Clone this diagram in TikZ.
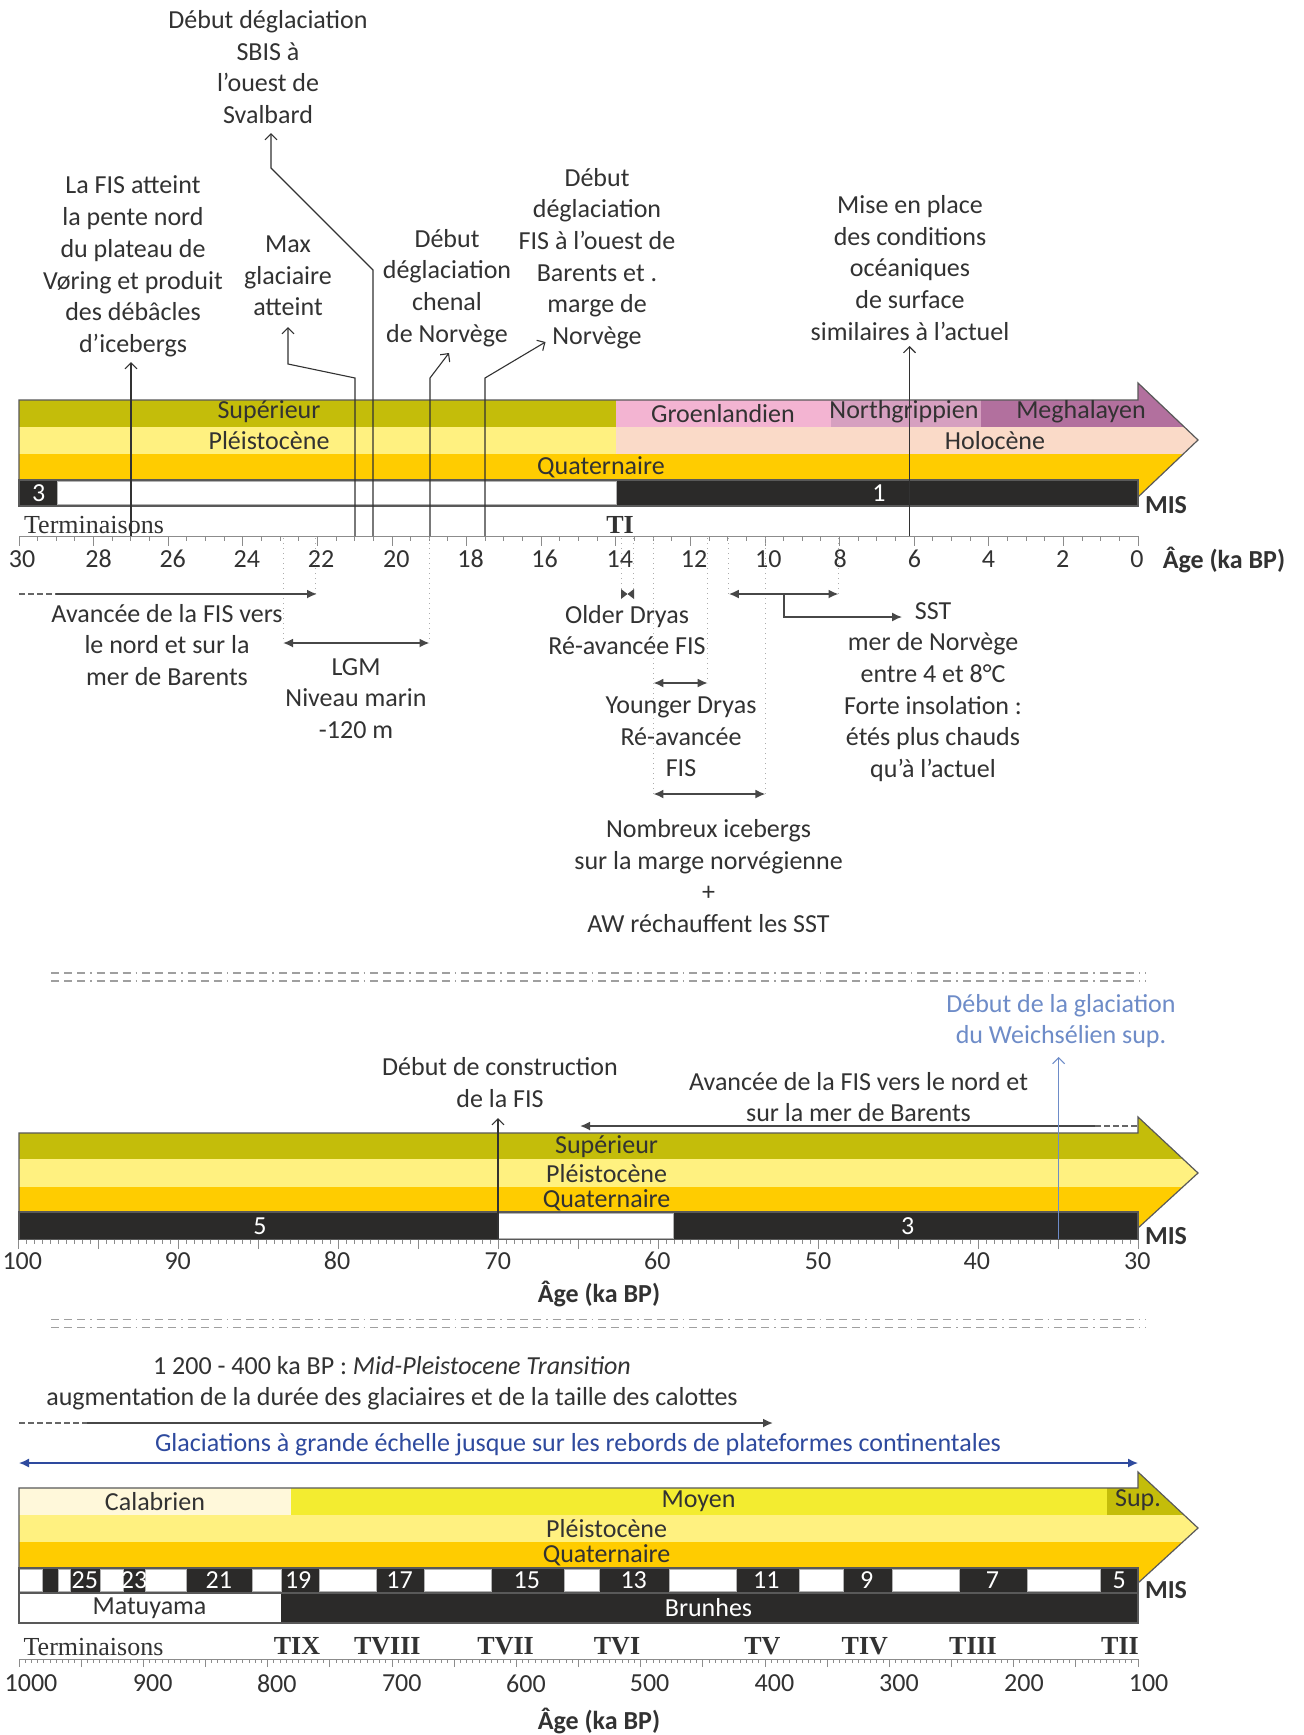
\documentclass[tikz,border=0pt]{standalone}
\usepackage{fontspec}
\setmainfont{Carlito}
\newfontfamily\tmsf{Liberation Serif}
\usetikzlibrary{arrows.meta}
\definecolor{sup}{RGB}{196,189,10}
\definecolor{ple}{RGB}{255,241,128}
\definecolor{qua}{RGB}{255,204,0}
\definecolor{gro}{RGB}{243,180,210}
\definecolor{nor}{RGB}{214,160,192}
\definecolor{meg}{RGB}{178,112,158}
\definecolor{hol}{RGB}{250,218,200}
\definecolor{mis}{RGB}{43,42,41}
\definecolor{moy}{RGB}{243,236,48}
\definecolor{cal}{RGB}{255,248,218}
\definecolor{txt}{RGB}{50,50,50}
\definecolor{blu}{RGB}{46,74,158}
\definecolor{lblu}{RGB}{110,140,200}
\definecolor{axg}{RGB}{140,140,140}
\tikzset{
  bld/.style={font=\fontsize{13}{15.85}\selectfont\bfseries},
  term/.style={font=\fontsize{13}{15.85}\selectfont\tmsf},
  termb/.style={font=\fontsize{13}{15.85}\selectfont\tmsf\bfseries},
  wtxt/.style={text=white},
  conn/.style={draw=txt, line width=0.55pt},
  upa/.style={conn, -{Straight Barb[length=3pt,width=6pt]}},
  harr/.style={draw=black!72, line width=0.9pt, -{Latex[length=5pt,width=4.5pt]}},
  hdarr/.style={harr, {Latex[length=5pt,width=4.5pt]}-{Latex[length=5pt,width=4.5pt]}},
  tiehead/.style={fill=black!72},
  hdash/.style={draw=black!60, line width=0.9pt, dash pattern=on 3pt off 1.5pt},
  dotln/.style={draw=gray!65, dotted, line width=0.5pt},
  tk/.style={draw=axg, line width=0.5pt},
  outl/.style={draw=black!65, line width=0.6pt},
  sepline/.style={draw=gray!75, line width=0.8pt, dash pattern=on 4pt off 2.5pt on 4pt off 2.5pt on 4pt off 2.5pt on 0.8pt off 2.5pt},
  wbox/.style={fill=white, draw=gray!60, line width=0.3pt}
}
\begin{document}
\begin{tikzpicture}[x=0.5pt,y=-0.5pt,
  every node/.style={font=\fontsize{13}{15.85}\selectfont, inner sep=0pt, align=center, text=txt}]
\useasboundingbox (0,0) rectangle (1304,1735);
\fill[white] (0,0) rectangle (1304,1735);

%================ TOP PANEL ================
\begin{scope}
\clip (19,400) -- (1138,400) -- (1138,383) -- (1198,440) -- (1138,497) -- (1138,480) -- (19,480) -- cycle;
\fill[sup] (19,378) rectangle (616,427);
\fill[gro] (616,378) rectangle (831,427);
\fill[nor] (831,378) rectangle (981,427);
\fill[meg] (981,378) rectangle (1200,427);
\fill[ple] (19,427) rectangle (616,454);
\fill[hol] (616,427) rectangle (1200,454);
\fill[qua] (19,454) rectangle (1200,500);
\end{scope}
\draw[outl] (19,400) -- (1138,400) -- (1138,383) -- (1198,440) -- (1138,497) -- (1138,480) -- (19,480) -- cycle;
\fill[mis] (19,480) rectangle (1138,506);
\filldraw[wbox] (57,481.5) rectangle (616,504.5);
\draw[outl] (19,480) rectangle (1138,506);

\node (tsup) at (269,412) {Supérieur};
\node (tple) at (269,440.5) {Pléistocène};
\node (tqua) at (601,467) {Quaternaire};
\node (tgro) at (723,414) {Groenlandien};
\node (tnor) at (904,412) {Northgrippien};
\node (tmeg) at (1081,412) {Meghalayen};
\node (thol) at (995,440.5) {Holocène};
\node[wtxt] (tm3) at (38.7,493) {3};
\node[wtxt] (tm1) at (879,493) {1};
\node[bld] (tmis) at (1166,505) {MIS};

\node[term] (tterm) at (94,525) {Terminaisons};
\node[termb] (tti) at (620,525) {TI};

\draw[tk] (19,536) -- (1138,536);
\foreach \i in {0,...,60}{
  \pgfmathsetmacro\xx{1138-18.65*\i}
  \pgfmathtruncatemacro\mm{mod(\i,4)}
  \ifnum\mm=0 \def\tl{10}\else\def\tl{5}\fi
  \draw[tk] (\xx,536) -- (\xx,536+\tl);
}
\foreach \v/\xx in {30/22.1,28/98.5,26/172.7,24/246.9,22/321,20/396.3,18/470.5,16/544.6,14/619.9,12/694,10/768.3,8/840.2,6/914.4,4/988.5,2/1062.7,0/1136.9}{
  \node (nt\v) at (\xx,559) {\v};
}
\node[bld] (tage) at (1224,560) {Âge (ka BP)};

% labels above
\node (lsbis) at (268,67) {Début déglaciation\\SBIS à\\l’ouest de\\Svalbard};
\node (lvor) at (133,266.5) {La FIS atteint\\la pente nord\\du plateau de\\Vøring et produit\\des débâcles\\d’icebergs};
\node (lmax) at (288,276) {Max\\glaciaire\\atteint};
\node (lchen) at (447,288) {Début\\déglaciation\\chenal\\de Norvège};
\node (lbar) at (597,258.5) {Début\\déglaciation\\FIS à l’ouest de\\Barents et .\\marge de\\Norvège};
\node (lmise) at (910,268) {Mise en place\\des conditions\\océaniques\\de surface\\similaires à l’actuel};

\coordinate (cvor) at (131,362);
\coordinate (cmax) at (288,327);
\coordinate (csbis) at (271,133);
\coordinate (cchen) at (449,353);
\coordinate (cbar) at (545.5,342);
\coordinate (cmise) at (909.5,346);
\draw[upa] (131,536) -- (cvor);
\draw[upa] (355,536) -- (355,378) -- (288,364) -- (cmax);
\draw[upa] (373,536) -- (373,270) -- (271,168) -- (csbis);
\draw[upa] (430,536) -- (430,378) -- (cchen);
\draw[upa] (485,536) -- (485,378) -- (cbar);
\draw[upa] (909.5,536) -- (cmise);

% dotted guides
\foreach \xx/\yy in {283/643,315/594,429.5/643,621/594,633/594,653.4/794,707.7/683,728.8/594,765.4/794,838.5/594}{
  \draw[dotln] (\xx,538) -- (\xx,\yy);
}
% arrows below
\draw[hdash] (19,594) -- (56,594);
\draw[harr] (56,594) -- (317,594);
\draw[hdarr] (283,643) -- (429.5,643);
\fill[tiehead] (621,589) -- (627.5,594) -- (621,599) -- cycle;
\fill[tiehead] (634,589) -- (627.5,594) -- (634,599) -- cycle;
\draw[hdarr] (653.4,683) -- (707.7,683);
\draw[hdarr] (653.4,794) -- (765.4,794);
\draw[hdarr] (728.8,594) -- (838.5,594);
\coordinate (csst) at (902,617);
\draw[harr, line width=0.7pt] (784,594) -- (784,617) -- (csst);

\node (lav) at (167,645) {Avancée de la FIS vers\\le nord et sur la\\mer de Barents};
\node (llgm) at (356,698.5) {LGM\\Niveau marin\\-120 m};
\node (lold) at (627,630) {Older Dryas\\Ré-avancée FIS};
\node (lyng) at (681,737) {Younger Dryas\\Ré-avancée\\FIS};
\node (lnbr) at (708.5,876) {Nombreux icebergs\\sur la marge norvégienne\\+\\AW réchauffent les SST};
\node (lsst) at (933,692) {SST\\mer de Norvège\\entre 4 et 8°C\\Forte insolation :\\étés plus chauds\\qu’à l’actuel};

%================ MIDDLE PANEL ================
\draw[sepline] (51,973) -- (1146,973);
\draw[sepline] (51,981) -- (1146,981);

\begin{scope}
\clip (19,1133) -- (1138,1133) -- (1138,1117) -- (1198,1173) -- (1138,1228) -- (1138,1212) -- (19,1212) -- cycle;
\fill[sup] (19,1110) rectangle (1200,1159.3);
\fill[ple] (19,1159.3) rectangle (1200,1186.7);
\fill[qua] (19,1186.7) rectangle (1200,1235);
\end{scope}
\draw[outl] (19,1133) -- (1138,1133) -- (1138,1117) -- (1198,1173) -- (1138,1228) -- (1138,1212) -- (19,1212) -- cycle;
\fill[mis] (19,1212) rectangle (1138,1239.5);
\filldraw[wbox] (498,1213.5) rectangle (673,1238);
\draw[outl] (19,1212) rectangle (1138,1239.5);

\node (msup) at (606.6,1146.5) {Supérieur};
\node (mple) at (606.6,1173.5) {Pléistocène};
\node (mqua) at (606.6,1200) {Quaternaire};
\node[wtxt] (mm5) at (260,1226) {5};
\node[wtxt] (mm3) at (907.7,1226) {3};
\node[bld] (mmis) at (1166,1236.5) {MIS};

\foreach \i in {0,...,140}{
  \pgfmathsetmacro\xx{1138-7.993*\i}
  \pgfmathtruncatemacro\mm{mod(\i,10)}
  \ifnum\mm=0 \def\tl{9}\else\def\tl{4.5}\fi
  \draw[tk] (\xx,1239.5) -- (\xx,1239.5+\tl);
}
\foreach \v/\xx in {100/22.3,90/177.7,80/337,70/497.8,60/657.4,50/818,40/976.8,30/1137.3}{
  \node (nm\v) at (\xx,1261) {\v};
}
\node[bld] (mage) at (599,1294) {Âge (ka BP)};

\node (ldeb) at (500,1082.5) {Début de construction\\de la FIS};
\coordinate (cdeb) at (498,1118);
\draw[upa] (498,1239) -- (cdeb);
\node (lavm) at (858.5,1097) {Avancée de la FIS vers le nord et\\sur la mer de Barents};
\coordinate (cavm) at (580,1126);
\draw[hdash] (1137,1126) -- (1095,1126);
\draw[harr] (1095,1126) -- (cavm);
\node[text=lblu] (lwei) at (1061,1021) {Début de la glaciation\\du Weichsélien sup.};
\coordinate (cwei) at (1058.6,1057);
\draw[upa, draw=lblu] (1058.6,1239) -- (cwei);

%================ BOTTOM PANEL ================
\draw[sepline] (51,1319.5) -- (1146,1319.5);
\draw[sepline] (51,1327.5) -- (1146,1327.5);

\node (lmpt1) at (392,1366) {1 200 - 400 ka BP : \textit{Mid-Pleistocene Transition}};
\node (lmpt2) at (392,1399) {augmentation de la durée des glaciaires et de la taille des calottes};
\coordinate (cmpt) at (773,1423);
\draw[hdash] (19,1423) -- (87,1423);
\draw[harr] (87,1423) -- (cmpt);
\node[text=blu] (lgla) at (578,1444.5) {Glaciations à grande échelle jusque sur les rebords de plateformes continentales};
\draw[hdarr, draw=blu, line width=0.7pt] (19,1463) -- (1138,1463);

\begin{scope}
\clip (19,1488) -- (1138,1488) -- (1138,1472) -- (1198,1528) -- (1138,1583) -- (1138,1568) -- (19,1568) -- cycle;
\fill[cal] (19,1465) rectangle (291,1515);
\fill[moy] (291,1465) rectangle (1107,1515);
\fill[sup] (1107,1465) rectangle (1200,1515);
\fill[ple] (19,1515) rectangle (1200,1542);
\fill[qua] (19,1542) rectangle (1200,1590);
\end{scope}
\draw[outl] (19,1488) -- (1138,1488) -- (1138,1472) -- (1198,1528) -- (1138,1583) -- (1138,1568) -- (19,1568) -- cycle;
\fill[mis] (19,1568) rectangle (1138,1593);
\foreach \a/\b in {19/42.4,58/70.5,100.4/123.7,145/186.6,252.2/281,319.6/376.3,424.1/491,563.8/599.1,669.6/735.8,799.2/842.8,892.3/959.7,1027.2/1100.4}{
  \filldraw[wbox] (\a,1569.5) rectangle (\b,1591.5);
}
\fill[white] (19,1593) rectangle (281,1623);
\fill[mis] (281,1593) rectangle (1138,1623);
\draw[outl] (19,1568) rectangle (1138,1623);
\draw[outl] (19,1593) -- (1138,1593);

\node (bcal) at (155,1502) {Calabrien};
\node (bmoy) at (698.5,1501) {Moyen};
\node (bsup) at (1138,1500) {Sup.};
\node (bple) at (606.6,1529) {Pléistocène};
\node (bqua) at (606.6,1555.5) {Quaternaire};
\foreach \v/\xx in {25/84.8,23/134,21/218.8,19/298.2,17/399.6,15/526.8,13/633.7,11/766.4,9/866.6,7/992.5,5/1119.3}{
  \node[wtxt] (bm\v) at (\xx,1580.5) {\v};
}
\node (bmat) at (149.5,1608) {Matuyama};
\node[wtxt] (bbru) at (708.5,1608) {Brunhes};
\node[bld] (bmis) at (1166,1590) {MIS};

\node[term] (bterm) at (93.5,1647) {Terminaisons};
\foreach \t/\xx in {TIX/297,TVIII/387.3,TVII/505.6,TVI/617,TV/762.4,TIV/864.8,TIII/973,TII/1120}{
  \node[termb] (b\t) at (\xx,1646) {\t};
}
\draw[tk] (19,1659) -- (1138,1659);
\foreach \i in {0,...,180}{
  \pgfmathsetmacro\xx{1138-6.2165*\i}
  \pgfmathtruncatemacro\mm{mod(\i,10)}
  \ifnum\mm=0 \def\tl{8}\else\def\tl{4}\fi
  \draw[tk] (\xx,1659) -- (\xx,1659+\tl);
}
\foreach \v/\xx in {1000/31,900/152.7,800/276.8,700/401.8,600/525.9,500/649.6,400/774.5,300/899,200/1024,100/1148.6}{
  \node (nb\v) at (\xx,1683.5) {\v};
}
\node[bld] (bage) at (599,1721) {Âge (ka BP)};
\end{tikzpicture}
\end{document}
